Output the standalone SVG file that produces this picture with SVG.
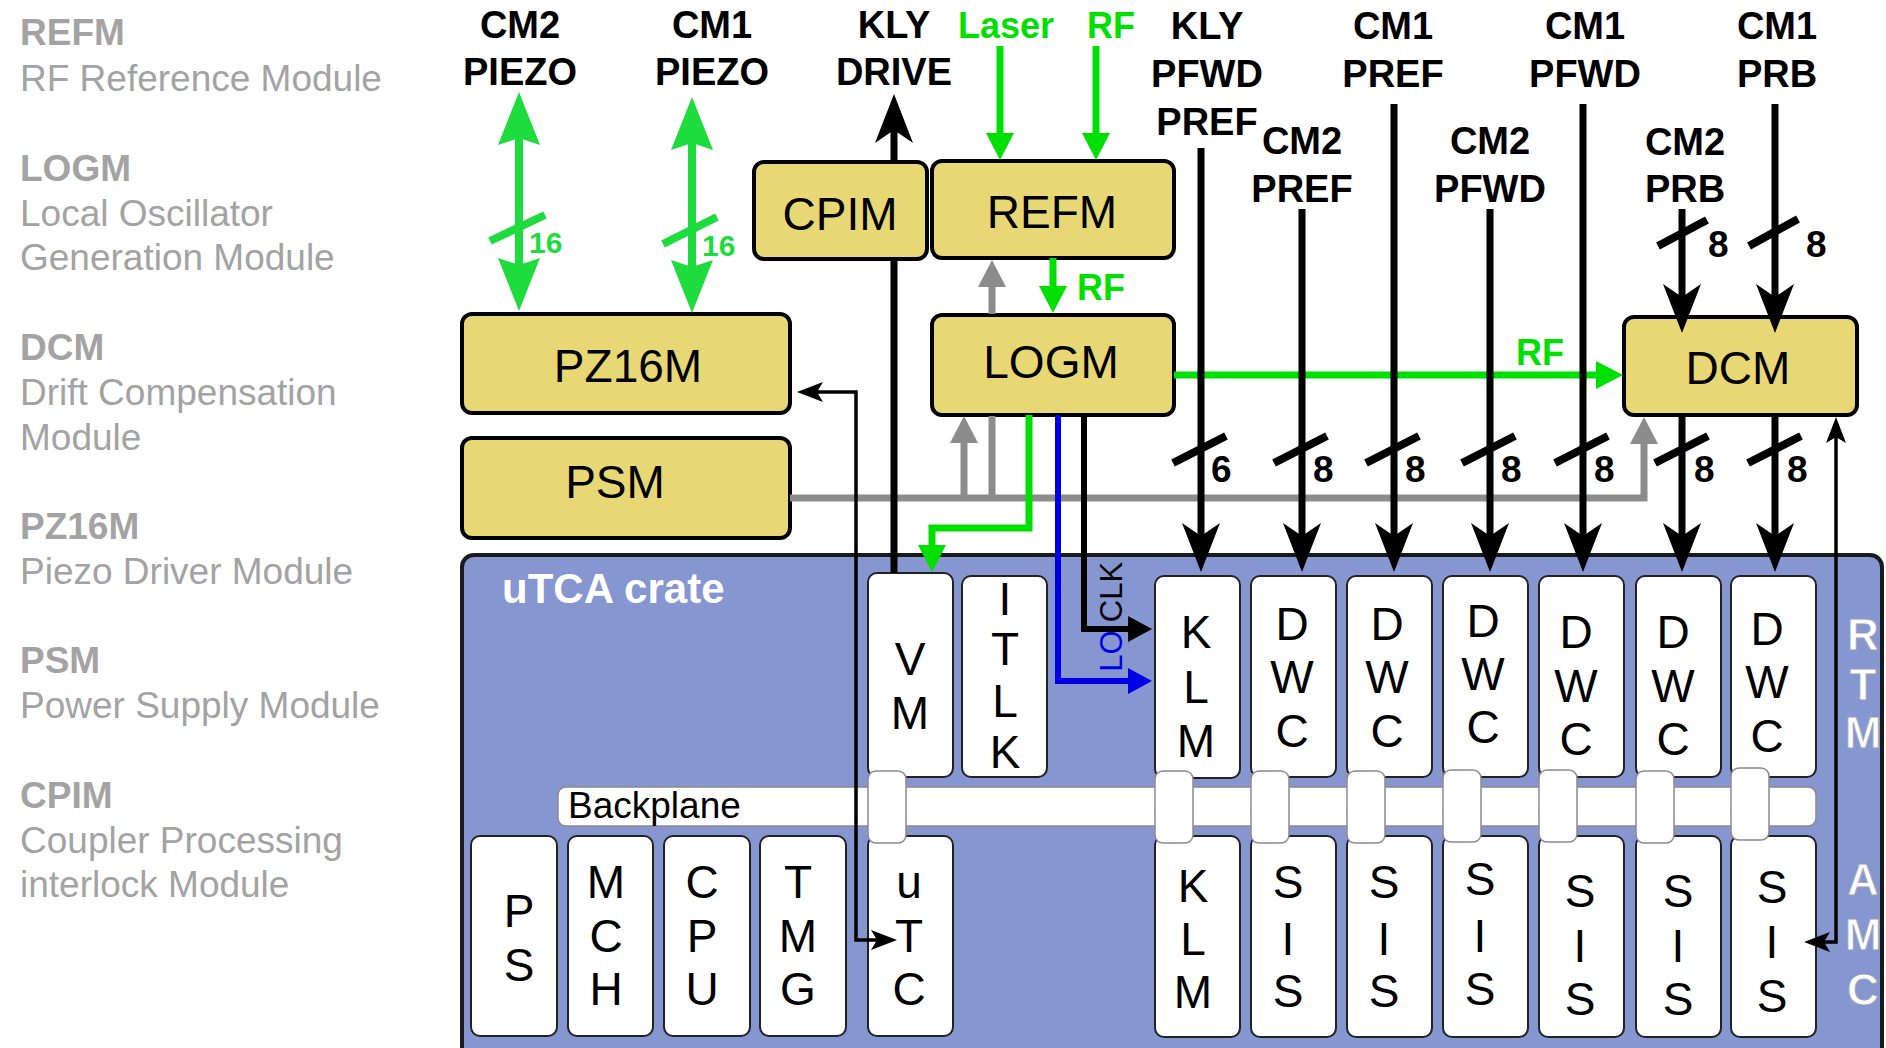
<svg xmlns="http://www.w3.org/2000/svg" xmlns:xlink="http://www.w3.org/1999/xlink" width="1886" height="1048" viewBox="0 0 1886 1048">
<style>
text{font-family:"Liberation Sans",Arial,sans-serif}
.lg{font-size:37px;fill:#a3a3a3}
.lgb{font-size:37px;fill:#a3a3a3;font-weight:bold}
.top{font-size:38px;font-weight:bold;fill:#000;text-anchor:middle}
.gl{font-size:36px;font-weight:bold;fill:#00e000;text-anchor:middle}
.ybox{fill:#e8d875;stroke:#000;stroke-width:4}
.yt{font-size:46px;fill:#000;text-anchor:middle}
.mod{fill:#fff;stroke:#222;stroke-width:2}
.con{fill:#fff;stroke:#8a8a8a;stroke-width:1.5}
.ml{font-size:46px;fill:#000;text-anchor:middle}
.side{font-size:44px;font-weight:bold;fill:#fff;stroke:#9aa0b8;stroke-width:1;text-anchor:middle}
.bk{fill:none;stroke:#000;stroke-width:7}
.thin{fill:none;stroke:#000;stroke-width:3.5}
.gr{fill:none;stroke:#8c8c8c;stroke-width:7}
.grn{fill:none;stroke:#00e000;stroke-width:7}
.pz{fill:none;stroke:#1edc3e;stroke-width:8}
.sl{stroke:#000;stroke-width:8}
.dg{font-size:37px;font-weight:bold;fill:#000}
.dgg{font-size:30px;font-weight:bold;fill:#1edc3e}
</style>
<defs>
<path id="hk" d="M0,0 L-19,-49 L0,-36 L19,-49 Z"/>
<path id="hg" d="M0,0 L-14,-27 L14,-27 Z"/>
<path id="hp" d="M0,0 L-21,-53 L0,-46 L21,-53 Z"/>
<path id="ht" d="M0,0 L-10,-26 L0,-20 L10,-26 Z"/>
<path id="hr" d="M0,0 L-24,-13 L-24,13 Z"/>
</defs>
<rect width="1886" height="1048" fill="#fff"/>

<g id="legend">
<text class="lgb" x="20" y="45">REFM</text>
<text class="lg" x="20" y="91">RF Reference Module</text>
<text class="lgb" x="20" y="181">LOGM</text>
<text class="lg" x="20" y="226">Local Oscillator</text>
<text class="lg" x="20" y="270">Generation Module</text>
<text class="lgb" x="20" y="360">DCM</text>
<text class="lg" x="20" y="405">Drift Compensation</text>
<text class="lg" x="20" y="450">Module</text>
<text class="lgb" x="20" y="539">PZ16M</text>
<text class="lg" x="20" y="584">Piezo Driver Module</text>
<text class="lgb" x="20" y="673">PSM</text>
<text class="lg" x="20" y="718">Power Supply Module</text>
<text class="lgb" x="20" y="808">CPIM</text>
<text class="lg" x="20" y="853">Coupler Processing</text>
<text class="lg" x="20" y="897">interlock Module</text>
</g>

<g id="top-labels">
<text class="top" x="520" y="38">CM2</text><text class="top" x="520" y="85">PIEZO</text>
<text class="top" x="712" y="38">CM1</text><text class="top" x="712" y="85">PIEZO</text>
<text class="top" x="894" y="38">KLY</text><text class="top" x="894" y="85">DRIVE</text>
<text class="gl" x="1006" y="38">Laser</text>
<text class="gl" x="1111" y="38">RF</text>
<text class="top" x="1207" y="39">KLY</text><text class="top" x="1207" y="87">PFWD</text><text class="top" x="1207" y="135">PREF</text>
<text class="top" x="1302" y="154">CM2</text><text class="top" x="1302" y="202">PREF</text>
<text class="top" x="1393" y="39">CM1</text><text class="top" x="1393" y="87">PREF</text>
<text class="top" x="1490" y="154">CM2</text><text class="top" x="1490" y="202">PFWD</text>
<text class="top" x="1585" y="39">CM1</text><text class="top" x="1585" y="87">PFWD</text>
<text class="top" x="1685" y="155">CM2</text><text class="top" x="1685" y="202">PRB</text>
<text class="top" x="1777" y="39">CM1</text><text class="top" x="1777" y="87">PRB</text>
</g>

<g id="crate">
<rect x="462" y="555" width="1420" height="520" rx="12" fill="#8596d0" stroke="#1a1a1a" stroke-width="4"/>
<text x="502" y="603" font-size="42" font-weight="bold" fill="#fff">uTCA crate</text>
<text class="side" x="1863" y="650">R</text>
<text class="side" x="1863" y="700">T</text>
<text class="side" x="1863" y="748">M</text>
<text class="side" x="1863" y="895">A</text>
<text class="side" x="1863" y="950">M</text>
<text class="side" x="1863" y="1005">C</text>
</g>

<g id="backplane">
<rect x="558" y="787" width="1258" height="39" rx="8" fill="#fff" stroke="#8a8a8a" stroke-width="1.5"/>
<text x="568" y="818" font-size="37" fill="#000">Backplane</text>
</g>

<g id="VM"><rect class="mod" x="868" y="573" width="85" height="204" rx="9"/><text class="ml" x="910" y="675">V</text><text class="ml" x="910" y="729">M</text></g>
<g id="ITLK"><rect class="mod" x="962" y="576" width="85" height="201" rx="9"/><text class="ml" x="1005" y="615">I</text><text class="ml" x="1005" y="665">T</text><text class="ml" x="1005" y="717">L</text><text class="ml" x="1005" y="768">K</text></g>
<g id="KLM-RTM"><rect class="mod" x="1155" y="576" width="85" height="202" rx="9"/><text class="ml" x="1196" y="648">K</text><text class="ml" x="1196" y="703">L</text><text class="ml" x="1196" y="757">M</text></g>
<g id="DWC1"><rect class="mod" x="1251" y="576" width="85" height="201" rx="9"/><text class="ml" x="1292" y="640">D</text><text class="ml" x="1292" y="693">W</text><text class="ml" x="1292" y="747">C</text></g>
<g id="DWC2"><rect class="mod" x="1347" y="576" width="85" height="201" rx="9"/><text class="ml" x="1387" y="640">D</text><text class="ml" x="1387" y="693">W</text><text class="ml" x="1387" y="747">C</text></g>
<g id="DWC3"><rect class="mod" x="1443" y="576" width="85" height="201" rx="9"/><text class="ml" x="1483" y="637">D</text><text class="ml" x="1483" y="690">W</text><text class="ml" x="1483" y="743">C</text></g>
<g id="DWC4"><rect class="mod" x="1539" y="576" width="85" height="201" rx="9"/><text class="ml" x="1576" y="648">D</text><text class="ml" x="1576" y="702">W</text><text class="ml" x="1576" y="755">C</text></g>
<g id="DWC5"><rect class="mod" x="1636" y="576" width="85" height="201" rx="9"/><text class="ml" x="1673" y="648">D</text><text class="ml" x="1673" y="702">W</text><text class="ml" x="1673" y="755">C</text></g>
<g id="DWC6"><rect class="mod" x="1731" y="576" width="85" height="201" rx="9"/><text class="ml" x="1767" y="645">D</text><text class="ml" x="1767" y="698">W</text><text class="ml" x="1767" y="752">C</text></g>

<g id="PS"><rect class="mod" x="471" y="836" width="86" height="200" rx="9"/><text class="ml" x="519" y="927">P</text><text class="ml" x="519" y="981">S</text></g>
<g id="MCH"><rect class="mod" x="568" y="836" width="85" height="200" rx="9"/><text class="ml" x="606" y="898">M</text><text class="ml" x="606" y="952">C</text><text class="ml" x="606" y="1005">H</text></g>
<g id="CPU"><rect class="mod" x="664" y="836" width="86" height="200" rx="9"/><text class="ml" x="702" y="898">C</text><text class="ml" x="702" y="952">P</text><text class="ml" x="702" y="1005">U</text></g>
<g id="TMG"><rect class="mod" x="760" y="836" width="86" height="200" rx="9"/><text class="ml" x="798" y="898">T</text><text class="ml" x="798" y="952">M</text><text class="ml" x="798" y="1005">G</text></g>
<g id="uTC"><rect class="mod" x="868" y="836" width="85" height="200" rx="9"/><text class="ml" x="909" y="898">u</text><text class="ml" x="909" y="952">T</text><text class="ml" x="909" y="1005">C</text></g>
<g id="KLM-AMC"><rect class="mod" x="1155" y="836" width="85" height="201" rx="9"/><text class="ml" x="1193" y="902">K</text><text class="ml" x="1193" y="955">L</text><text class="ml" x="1193" y="1008">M</text></g>
<g id="SIS1"><rect class="mod" x="1251" y="836" width="85" height="201" rx="9"/><text class="ml" x="1288" y="898">S</text><text class="ml" x="1288" y="955">I</text><text class="ml" x="1288" y="1007">S</text></g>
<g id="SIS2"><rect class="mod" x="1347" y="836" width="85" height="201" rx="9"/><text class="ml" x="1384" y="898">S</text><text class="ml" x="1384" y="955">I</text><text class="ml" x="1384" y="1007">S</text></g>
<g id="SIS3"><rect class="mod" x="1443" y="836" width="85" height="201" rx="9"/><text class="ml" x="1480" y="895">S</text><text class="ml" x="1480" y="952">I</text><text class="ml" x="1480" y="1005">S</text></g>
<g id="SIS4"><rect class="mod" x="1539" y="836" width="85" height="201" rx="9"/><text class="ml" x="1580" y="907">S</text><text class="ml" x="1580" y="962">I</text><text class="ml" x="1580" y="1015">S</text></g>
<g id="SIS5"><rect class="mod" x="1636" y="836" width="85" height="201" rx="9"/><text class="ml" x="1678" y="907">S</text><text class="ml" x="1678" y="962">I</text><text class="ml" x="1678" y="1015">S</text></g>
<g id="SIS6"><rect class="mod" x="1731" y="836" width="85" height="201" rx="9"/><text class="ml" x="1772" y="903">S</text><text class="ml" x="1772" y="958">I</text><text class="ml" x="1772" y="1012">S</text></g>

<g id="backplane-connectors">
<rect class="con" x="868" y="771" width="38" height="72" rx="8"/>
<rect class="con" x="1155" y="771" width="38" height="72" rx="8"/>
<rect class="con" x="1251" y="771" width="38" height="72" rx="8"/>
<rect class="con" x="1347" y="771" width="38" height="72" rx="8"/>
<rect class="con" x="1443" y="770" width="38" height="72" rx="8"/>
<rect class="con" x="1539" y="770" width="38" height="72" rx="8"/>
<rect class="con" x="1636" y="771" width="38" height="72" rx="8"/>
<rect class="con" x="1731" y="768" width="38" height="72" rx="8"/>
</g>

<g id="CPIM"><rect class="ybox" x="754" y="162" width="173" height="97" rx="10"/><text class="yt" x="840" y="230">CPIM</text></g>
<g id="REFM"><rect class="ybox" x="932" y="161" width="242" height="97" rx="10"/><text class="yt" x="1052" y="228">REFM</text></g>
<g id="PZ16M"><rect class="ybox" x="462" y="314" width="328" height="99" rx="10"/><text class="yt" x="628" y="382">PZ16M</text></g>
<g id="PSM"><rect class="ybox" x="462" y="438" width="328" height="100" rx="10"/><text class="yt" x="615" y="498">PSM</text></g>
<g id="LOGM"><rect class="ybox" x="932" y="315" width="242" height="100" rx="10"/><text class="yt" x="1051" y="378">LOGM</text></g>
<g id="DCM"><rect class="ybox" x="1624" y="317" width="233" height="98" rx="10"/><text class="yt" x="1738" y="384">DCM</text></g>

<g id="connectors">
<!-- gray power lines -->
<path class="gr" d="M790,498 H1644 V437"/>
<use href="#hg" fill="#8c8c8c" transform="translate(1644,417) rotate(180)"/>
<path class="gr" d="M964,498 V436"/>
<use href="#hg" fill="#8c8c8c" transform="translate(964,416) rotate(180)"/>
<path class="gr" d="M992,498 V416"/>
<path class="gr" d="M992,314 V280"/>
<use href="#hg" fill="#8c8c8c" transform="translate(992,260) rotate(180)"/>

<!-- piezo -->
<path class="pz" d="M519,130 V272"/>
<use href="#hp" fill="#1edc3e" transform="translate(519,92) rotate(180)"/>
<use href="#hp" fill="#1edc3e" transform="translate(519,311)"/>
<line x1="490" y1="241" x2="545" y2="215" stroke="#1edc3e" stroke-width="8"/>
<text class="dgg" x="529" y="253">16</text>
<path class="pz" d="M692,135 V275"/>
<use href="#hp" fill="#1edc3e" transform="translate(692,97) rotate(180)"/>
<use href="#hp" fill="#1edc3e" transform="translate(692,313)"/>
<line x1="663" y1="244" x2="717" y2="217" stroke="#1edc3e" stroke-width="8"/>
<text class="dgg" x="702" y="256">16</text>

<!-- KLY drive -->
<path class="bk" d="M894,573 V260"/>
<path class="bk" d="M894,161 V124"/>
<use href="#hk" transform="translate(894,94) rotate(180)"/>

<!-- Laser / RF into REFM -->
<path class="grn" d="M1000,46 V140"/>
<use href="#hg" fill="#00e000" transform="translate(1000,160)"/>
<path class="grn" d="M1096,46 V140"/>
<use href="#hg" fill="#00e000" transform="translate(1096,160)"/>
<path class="grn" d="M1053,258 V293"/>
<use href="#hg" fill="#00e000" transform="translate(1053,313)"/>
<text class="gl" x="1101" y="300">RF</text>

<!-- LOGM outputs -->
<path class="grn" d="M1029,415 V528 H932 V552"/>
<use href="#hg" fill="#00e000" transform="translate(932,572)"/>
<path fill="none" stroke="#0000e6" stroke-width="6" d="M1058,415 V681 H1132"/>
<use href="#hr" fill="#0000e6" transform="translate(1152,681)"/>
<path fill="none" stroke="#000" stroke-width="6" d="M1084,415 V629 H1132"/>
<use href="#hr" transform="translate(1152,629)"/>
<text x="0" y="0" font-size="31" fill="#000" text-anchor="middle" transform="translate(1122,592) rotate(-90)">CLK</text>
<text x="0" y="0" font-size="31" fill="#0000e6" text-anchor="middle" transform="translate(1122,651) rotate(-90)">LO</text>
<path class="grn" d="M1174,375 H1603"/>
<use href="#hg" fill="#00e000" transform="translate(1623,375) rotate(-90)"/>
<text class="gl" x="1540" y="365">RF</text>

<!-- thin control lines -->
<path class="thin" d="M817,392 H856 V940 H877"/>
<use href="#ht" transform="translate(797,392) rotate(90)"/>
<use href="#ht" transform="translate(897,940) rotate(-90)"/>
<path class="thin" d="M1836,437 V942 H1824"/>
<use href="#ht" transform="translate(1836,417) rotate(180)"/>
<use href="#ht" transform="translate(1804,942) rotate(90)"/>

<!-- signal lines to RTM modules -->
<path class="bk" d="M1201,148 V542"/>
<use href="#hk" transform="translate(1201,572)"/>
<line class="sl" x1="1173" y1="463" x2="1226" y2="436"/>
<text class="dg" x="1211" y="482">6</text>

<path class="bk" d="M1302,209 V542"/>
<use href="#hk" transform="translate(1302,572)"/>
<line class="sl" x1="1274" y1="463" x2="1327" y2="436"/>
<text class="dg" x="1313" y="482">8</text>

<path class="bk" d="M1394,104 V542"/>
<use href="#hk" transform="translate(1394,572)"/>
<line class="sl" x1="1366" y1="463" x2="1419" y2="436"/>
<text class="dg" x="1405" y="482">8</text>

<path class="bk" d="M1490,209 V542"/>
<use href="#hk" transform="translate(1490,572)"/>
<line class="sl" x1="1462" y1="463" x2="1515" y2="436"/>
<text class="dg" x="1501" y="482">8</text>

<path class="bk" d="M1583,104 V542"/>
<use href="#hk" transform="translate(1583,572)"/>
<line class="sl" x1="1555" y1="463" x2="1608" y2="436"/>
<text class="dg" x="1594" y="482">8</text>

<path class="bk" d="M1682,209 V303"/>
<use href="#hk" transform="translate(1682,333)"/>
<line class="sl" x1="1658" y1="246" x2="1707" y2="220"/>
<text class="dg" x="1708" y="257">8</text>

<path class="bk" d="M1775,104 V303"/>
<use href="#hk" transform="translate(1775,333)"/>
<line class="sl" x1="1749" y1="246" x2="1798" y2="219"/>
<text class="dg" x="1806" y="257">8</text>

<path class="bk" d="M1682,415 V542"/>
<use href="#hk" transform="translate(1682,572)"/>
<line class="sl" x1="1655" y1="463" x2="1708" y2="436"/>
<text class="dg" x="1694" y="482">8</text>

<path class="bk" d="M1775,415 V542"/>
<use href="#hk" transform="translate(1775,572)"/>
<line class="sl" x1="1748" y1="463" x2="1801" y2="436"/>
<text class="dg" x="1787" y="482">8</text>
</g>
</svg>
